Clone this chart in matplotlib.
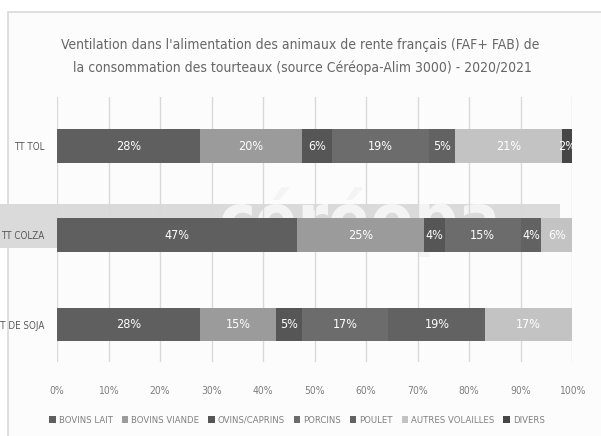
import numpy as np
import matplotlib.pyplot as plt
from matplotlib.patches import Rectangle

plt.rcParams['font.family'] = ['DejaVu Sans']
plt.rcParams['font.stretch'] = 'condensed'

categories = ['TT TOL', 'TT COLZA', 'TT DE SOJA']
series = ['BOVINS LAIT', 'BOVINS VIANDE', 'OVINS/CAPRINS', 'PORCINS',
          'POULET', 'AUTRES VOLAILLES', 'DIVERS']
bovins_lait = [28, 47, 28]
bovins_viande = [20, 25, 15]
ovins_caprins = [6, 4, 5]
porcins = [19, 15, 17]
poulet = [5, 4, 19]
autres_volailles = [21, 6, 17]
divers = [2, 0, 0]
xticks = [0, 10, 20, 30, 40, 50, 60, 70, 80, 90, 100]

colors = ['#5f5f5f', '#9b9b9b', '#565656', '#6c6c6c', '#626262', '#c3c3c3', '#464646']

data = np.array([bovins_lait, bovins_viande, ovins_caprins, porcins,
                 poulet, autres_volailles, divers], dtype=float)
shares = data / data.sum(axis=0) * 100

W, H = 601, 436
fig = plt.figure(figsize=(W / 100, H / 100), dpi=100)
fig.patch.set_facecolor('white')

# cadre du graphique
fig.add_artist(Rectangle((8 / W, -0.05), 1.1, 1 - 12 / H + 0.05,
                         transform=fig.transFigure, facecolor='#fcfcfc',
                         edgecolor='#d9d9d9', lw=1.2, zorder=0))

# bandeau du filigrane
fig.add_artist(Rectangle((0, 1 - 248 / H), 560 / W, 44 / H,
                         transform=fig.transFigure, facecolor='#dadada',
                         edgecolor='none', zorder=0.5))
fig.text(360 / W, 1 - 222 / H, 'céréopa', color='#f4f4f4', fontsize=50,
         fontweight='bold', ha='center', va='center', zorder=0.6)

ax = fig.add_axes([57 / W, 1 - 362 / H, 515 / W, 265 / H])
ax.patch.set_alpha(0)
ax.set_zorder(1)

y = np.arange(len(categories))
left = np.zeros(len(categories))
for i, name in enumerate(series):
    ax.barh(y, shares[i], left=left, height=0.38, color=colors[i],
            label=name, zorder=3)
    for j in range(len(categories)):
        if data[i, j] > 0:
            ax.text(left[j] + shares[i, j] / 2, y[j], f'{int(data[i, j])}%',
                    color='white', ha='center', va='center', fontsize=9,
                    zorder=4)
    left += shares[i]

ax.set_xlim(0, 100)
ax.set_ylim(2.42, -0.549)
ax.set_xticks(xticks)
ax.set_xticklabels([f'{t}%' for t in xticks], color='#7f7f7f', fontsize=7.5)
ax.set_yticks(y)
ax.set_yticklabels(categories, color='#595959', fontsize=7)
ax.tick_params(axis='x', length=0, pad=17)
ax.tick_params(axis='y', length=0, pad=9)
ax.grid(axis='x', color='#d9d9d9', lw=1, zorder=0)
for s in ax.spines.values():
    s.set_visible(False)

fig.text(300 / W, 1 - 45 / H,
         "Ventilation dans l'alimentation des animaux de rente français (FAF+ FAB) de",
         ha='center', va='center', fontsize=10, color='#666666')
fig.text(302 / W, 1 - 68 / H,
         "la consommation des tourteaux (source Céréopa-Alim 3000) - 2020/2021",
         ha='center', va='center', fontsize=10, color='#666666')

fig.legend(loc='center', bbox_to_anchor=(297 / W, 1 - 420 / H), ncol=7,
           frameon=False, fontsize=6.8, labelcolor='#7f7f7f', handlelength=0.7,
           handleheight=0.7, handletextpad=0.3, columnspacing=0.95)

fig.savefig('out.png', dpi=100)
